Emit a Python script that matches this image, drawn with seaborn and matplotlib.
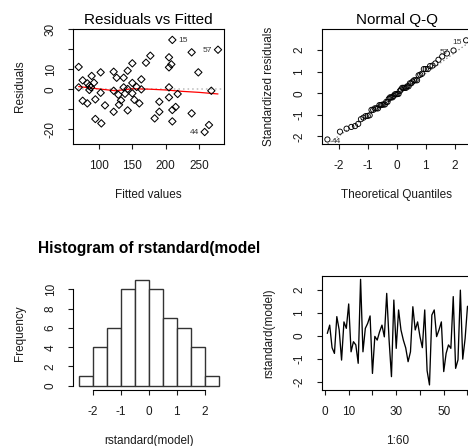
from statistics import NormalDist

import matplotlib
matplotlib.use('Agg')
import matplotlib.pyplot as plt
import numpy as np
import pandas as pd
import seaborn as sns

fitted = [69.5, 69.5, 75.5, 75.5, 82.5, 82.5, 89.0, 85.5, 85.5, 92.5,
          94.5, 94.5, 103.5, 102.5, 102.5, 109.0, 122.0, 122.0, 122.0, 126.5,
          129.0, 130.0, 133.0, 137.0, 137.0, 139.0, 143.0, 143.0, 143.0, 150.0,
          150.0, 150.0, 153.0, 156.5, 160.5, 163.5, 163.5, 170.5, 177.0, 183.5,
          190.5, 190.5, 205.0, 205.0, 208.5, 205.0, 205.0, 210.0, 210.0, 215.0,
          210.0, 218.0, 239.0, 239.0, 249.0, 268.5, 265.0, 258.5, 278.5, 88.0]
residuals = [11.2, 1.0, 4.5, -5.7, 3.0, -7.0, 6.7, 1.7, -0.3, 3.3,
             -5.0, -14.8, -17.0, 8.5, -1.7, -8.0, 8.8, -0.7, -11.2, 5.8,
             -2.7, -7.7, -5.5, 5.8, 1.0, -2.2, 9.3, 0.2, -10.5, 13.0,
             3.2, -2.0, -5.2, 1.2, -7.0, 5.0, 0.0, 13.3, 16.8, -14.5,
             -11.2, -6.2, 16.0, 11.0, 12.5, 1.0, -4.0, 24.7, -10.3, -8.8,
             -16.0, -2.3, 18.5, -12.0, 8.5, -0.7, -17.8, -21.3, 19.8, 1.0]
# label -> position in the fitted/residuals lists
resid_ids = {'15': 47, '57': 58, '44': 57}

# red smoother
lowess_x = [69.5, 100, 125, 150, 175, 200, 225, 250, 278.5]
lowess_y = [1.4, 0.2, -0.7, 0.3, 0.1, -0.3, -1.0, -1.5, -2.3]

rstd = [0.10, 0.46, -0.52, -0.77, 0.83, 0.25, -1.06, 0.60, 0.32, 1.38,
        -0.70, -0.26, -0.40, -1.20, 2.45, -0.70, 0.32, 0.54, 0.86, -1.64,
        -0.03, -0.19, 0.17, 0.46, -0.05, 1.84, -0.19, -1.78, 1.55, -0.55,
        1.12, 0.25, -0.19, -0.53, -1.13, -0.70, 1.26, 0.25, 0.60, -0.04,
        -0.52, 1.12, -1.52, -2.14, 0.90, 1.12, -0.04, 0.25, 0.60, -1.56,
        -0.77, -0.40, -0.55, 1.70, -1.42, -1.05, 1.98, -1.02, -0.12, 1.28]
qq_ids = [15, 57, 44]

hist_breaks = [-2.5, -2.0, -1.5, -1.0, -0.5, 0.0, 0.5, 1.0, 1.5, 2.0, 2.5]

# ticks / labels
resid_xticks = [100, 150, 200, 250]
resid_yticks = [-20, -10, 0, 10, 20, 30]
resid_ylabels = ['-20', '', '0', '10', '', '30']
qq_ticks = [-2, -1, 0, 1, 2]
hist_xticks = [-2, -1, 0, 1, 2]
hist_yticks = [0, 2, 4, 6, 8, 10]
idx_xticks = [0, 10, 20, 30, 40, 50, 60]
idx_xlabels = ['0', '10', '', '30', '', '50', '']
idx_yticks = [-2, -1, 0, 1, 2]

FS = 8.5


def rot_yticks(ax, ticks, labels=None):
    ax.set_yticks(ticks, labels if labels is not None else [str(t) for t in ticks])
    for lab in ax.get_yticklabels():
        lab.set_rotation(90)
        lab.set_va('center')


def style_axis(ax, xlab, ylab, xlab_y, ylab_x):
    ax.set_xlabel(xlab, fontsize=FS)
    ax.set_ylabel(ylab, fontsize=FS)
    ax.xaxis.set_label_coords(0.5, xlab_y)
    ax.yaxis.set_label_coords(ylab_x, 0.5)
    ax.tick_params(direction='out', length=3.8, width=0.8, pad=8,
                   labelsize=FS, colors='#1a1a1a')
    for sp in ax.spines.values():
        sp.set_linewidth(0.8)
        sp.set_color('black')


def main():
    sns.set_style('ticks')
    plt.rcParams.update({
        'font.family': ['Liberation Sans', 'DejaVu Sans'],
        'axes.grid': False,
        'text.color': 'black',
        'axes.labelcolor': '#1a1a1a',
    })

    fig = plt.figure(figsize=(4.68, 4.46), dpi=100)
    ax1 = fig.add_axes([0.1560, 0.6771, 0.3226, 0.2572])
    ax2 = fig.add_axes([0.6874, 0.6771, 0.3207, 0.2572])
    ax3 = fig.add_axes([0.1562, 0.1256, 0.3231, 0.2567])
    ax4 = fig.add_axes([0.6874, 0.1256, 0.3235, 0.2563])

    # (1) Residuals vs Fitted
    rf = pd.DataFrame({'fitted': fitted, 'resid': residuals})
    ax1.axhline(0, color='#bbbbbb', lw=1.1, ls=(0, (1, 2)), zorder=1)
    sns.scatterplot(data=rf, x='fitted', y='resid', ax=ax1, marker='D', s=14,
                    facecolor='none', edgecolor='black', linewidth=0.75, zorder=3)
    sns.lineplot(x=lowess_x, y=lowess_y, ax=ax1, color='red', lw=0.9,
                 sort=False, zorder=2)
    xmid = np.mean([min(fitted[i] for i in resid_ids.values()),
                    max(fitted[i] for i in resid_ids.values())])
    for lab, i in resid_ids.items():
        right = fitted[i] < xmid
        ax1.annotate(lab, (fitted[i], residuals[i]), xytext=(4 if right else -4, -0.5),
                     textcoords='offset points', ha='left' if right else 'right',
                     va='center', fontsize=6, color='#333333')
    ax1.set_xlim(61, 287.5)
    ax1.set_ylim(-27.3, 30)
    ax1.set_xticks(resid_xticks, [str(t) for t in resid_xticks])
    rot_yticks(ax1, resid_yticks, resid_ylabels)
    style_axis(ax1, 'Fitted values', 'Residuals', -0.39, -0.31)
    ax1.set_title('Residuals vs Fitted', fontsize=11, pad=3.8)

    # (2) Normal Q-Q
    n = len(rstd)
    nd = NormalDist()
    order = np.argsort(rstd)
    theo = np.array([nd.inv_cdf((k + 0.5) / n) for k in range(n)])
    sample = np.array(rstd)[order]
    qq = pd.DataFrame({'theo': theo, 'sample': sample})
    yq = np.quantile(rstd, [0.25, 0.75])
    xq = np.array([nd.inv_cdf(0.25), nd.inv_cdf(0.75)])
    slope = (yq[1] - yq[0]) / (xq[1] - xq[0])
    ax2.axline((0, yq[0] - slope * xq[0]), slope=slope, color='#7f7f7f',
               lw=0.9, ls=(0, (1, 2)), zorder=1)
    sns.scatterplot(data=qq, x='theo', y='sample', ax=ax2, marker='o', s=14,
                    facecolor='none', edgecolor='black', linewidth=0.65, zorder=3)
    rank = {obs: int(np.where(order == obs - 1)[0][0]) for obs in qq_ids}
    for obs in qq_ids:
        x, y = theo[rank[obs]], sample[rank[obs]]
        right = x < 0
        ax2.annotate(str(obs), (x, y), xytext=(3 if right else -3, -1.5),
                     textcoords='offset points', ha='left' if right else 'right',
                     va='center', fontsize=6, color='#333333')
    ax2.set_xlim(-2.59, 2.59)
    ax2.set_ylim(-2.35, 2.96)
    ax2.set_xticks(qq_ticks, [str(t) for t in qq_ticks])
    rot_yticks(ax2, qq_ticks)
    style_axis(ax2, 'Theoretical Quantiles', 'Standardized residuals', -0.39, -0.31)
    ax2.set_title('Normal Q-Q', fontsize=11, pad=3.8)

    # (3) Histogram
    sns.histplot(x=rstd, bins=hist_breaks, ax=ax3, color='white', alpha=1,
                 edgecolor='#333333', linewidth=1.0)
    ax3.set_xlim(-2.7, 2.7)
    ax3.set_ylim(-0.44, 11.44)
    ax3.set_xticks(hist_xticks, [str(t) for t in hist_xticks])
    rot_yticks(ax3, hist_yticks)
    style_axis(ax3, 'rstandard(model)', 'Frequency', -0.39, -0.31)
    ax3.spines['top'].set_visible(False)
    ax3.spines['right'].set_visible(False)
    ax3.spines['bottom'].set_bounds(hist_xticks[0], hist_xticks[-1])
    ax3.spines['left'].set_bounds(hist_yticks[0], hist_yticks[-1])
    ax3.set_title('Histogram of rstandard(model', fontsize=11.2,
                  fontweight='bold', pad=16.4)

    # (4) rstandard(model) vs 1:60
    idx = np.arange(1, n + 1)
    sns.lineplot(x=idx, y=rstd, ax=ax4, color='black', lw=0.95)
    ax4.set_xlim(-1.36, 62.36)
    ax4.set_ylim(-2.36, 2.61)
    ax4.set_xticks(idx_xticks, idx_xlabels)
    rot_yticks(ax4, idx_yticks)
    style_axis(ax4, '1:60', 'rstandard(model)', -0.39, -0.31)

    fig.savefig('out.png', dpi=100)


if __name__ == '__main__':
    main()
